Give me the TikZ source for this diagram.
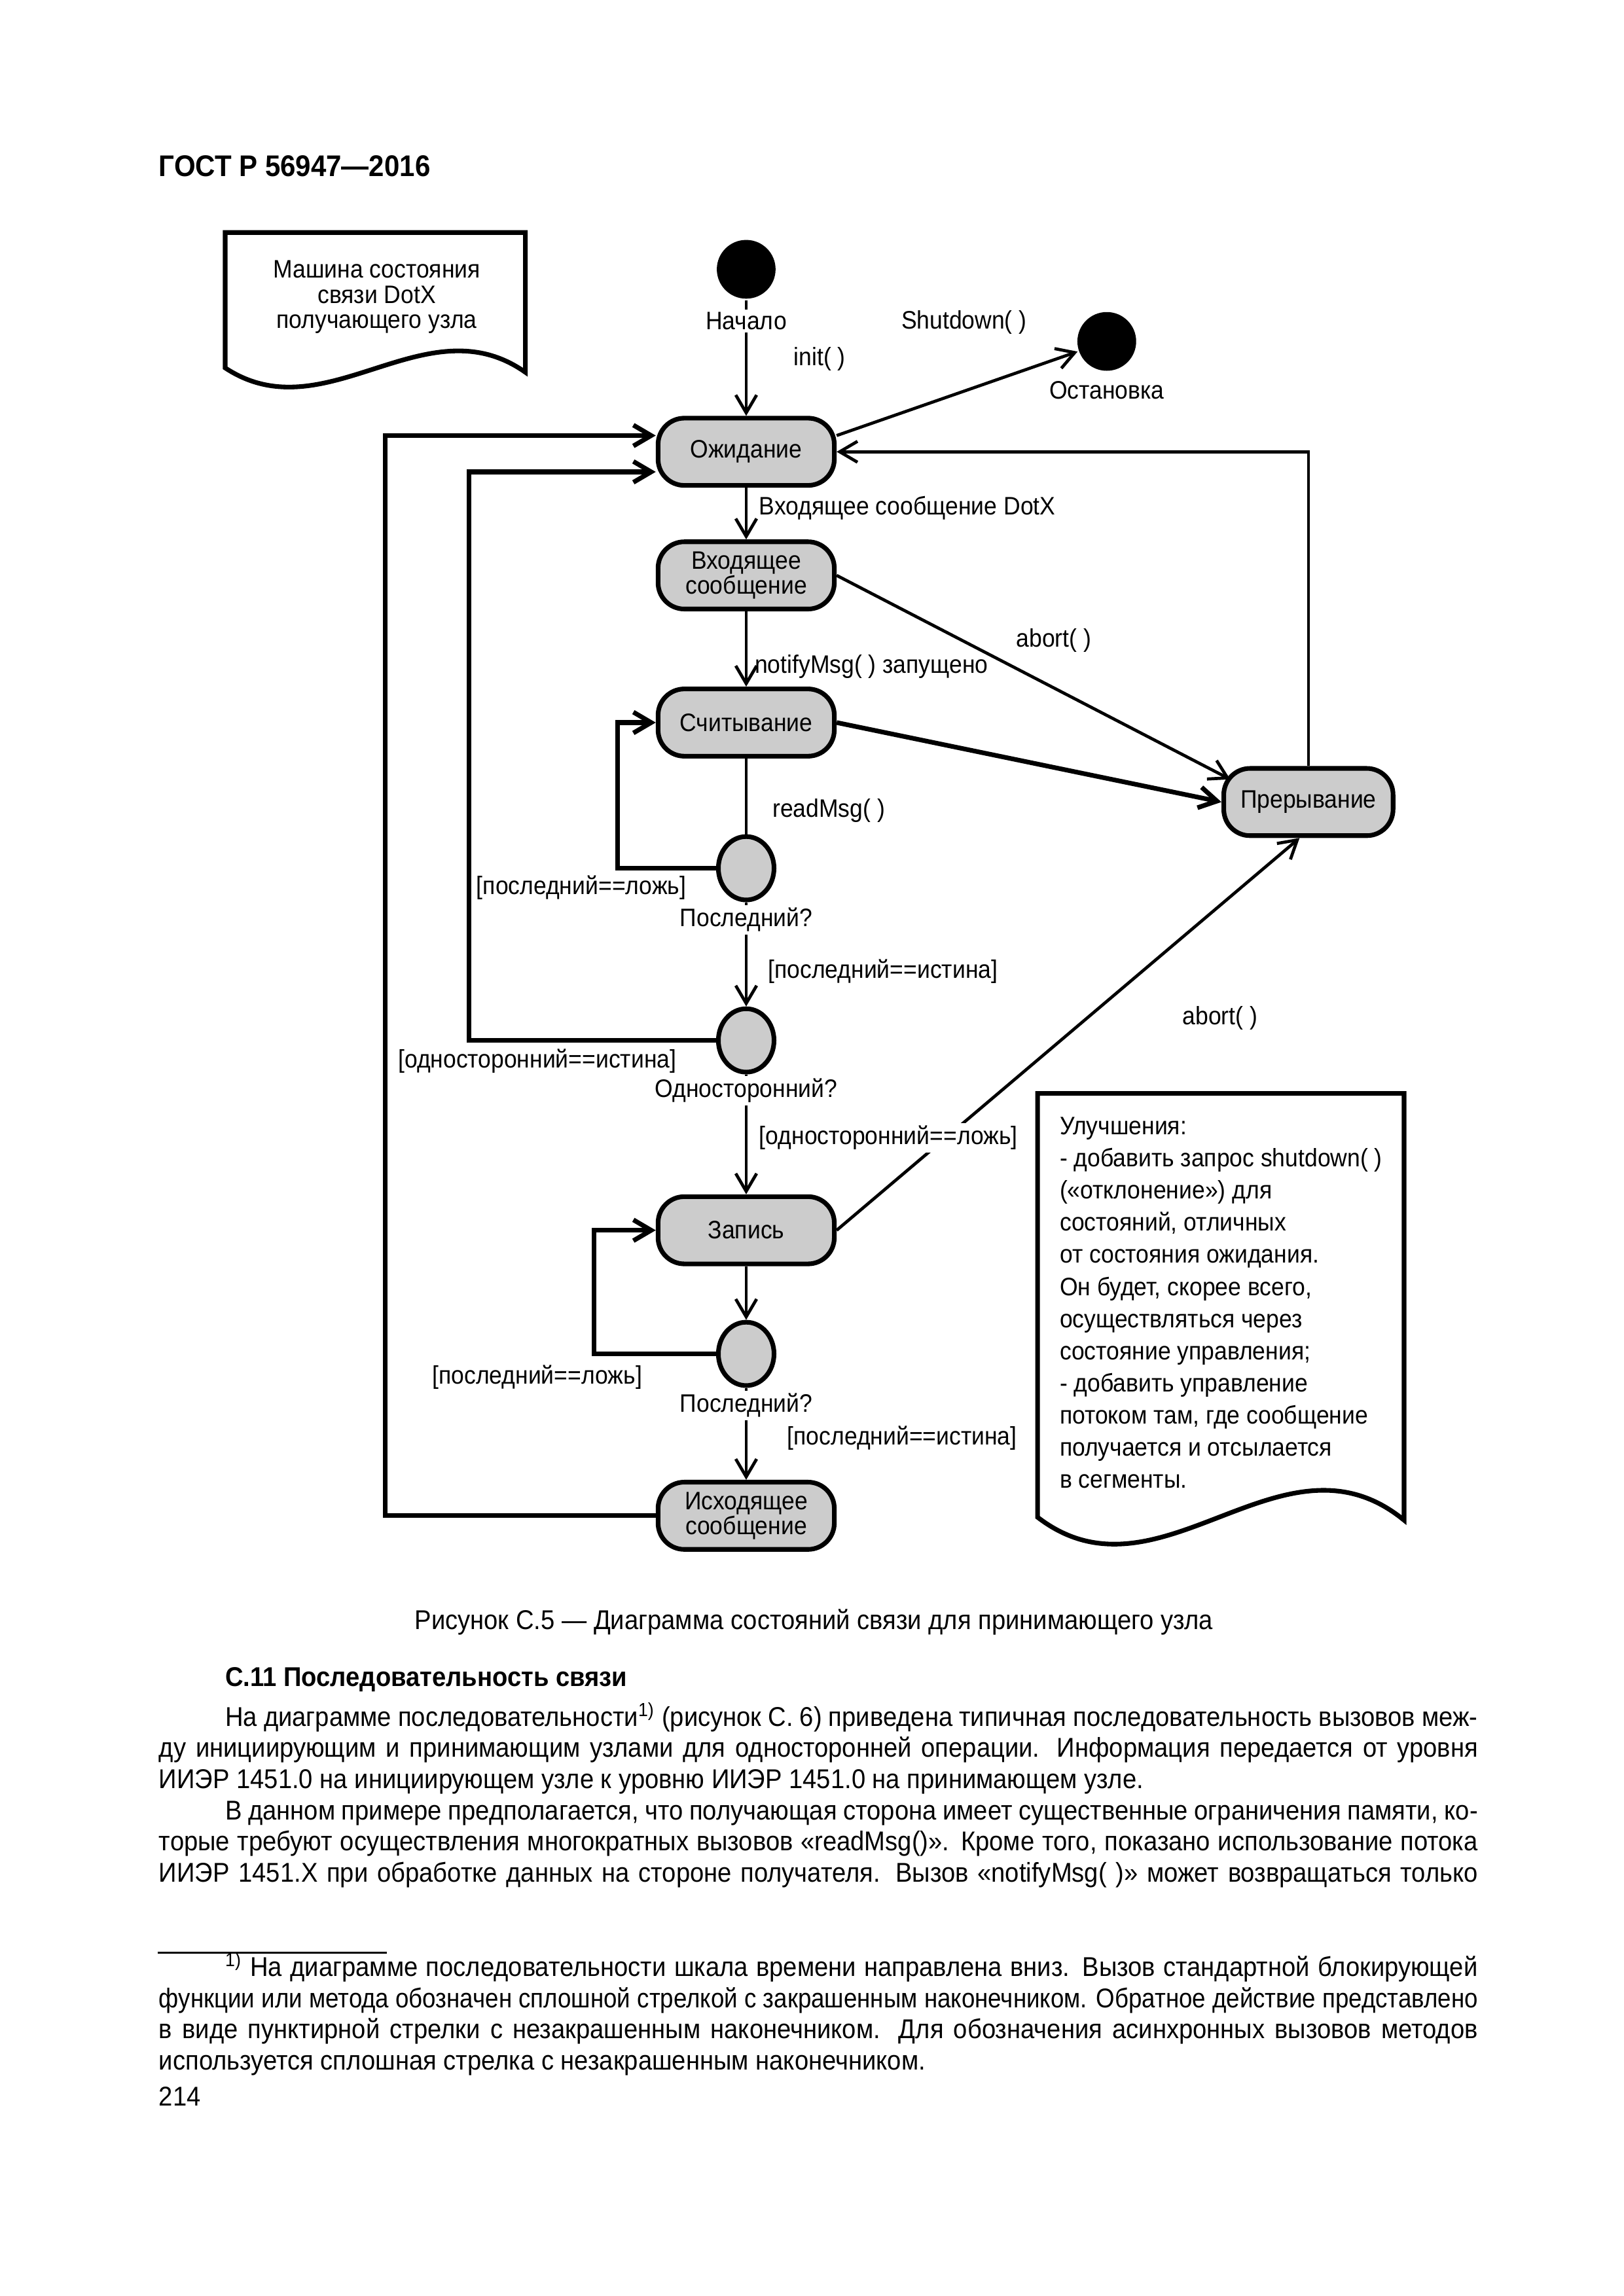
\documentclass[tikz,border=0pt]{standalone}
\usepackage{fontspec}
\usepackage{graphicx}
\setmainfont{Liberation Sans}[FakeStretch=0.92]
\usetikzlibrary{arrows.meta}
\usetikzlibrary{calc}
\usetikzlibrary{positioning}
\usetikzlibrary{shapes.geometric}

\newcommand{\dgfont}{\fontsize{9.3}{9.2}\selectfont}
\newcommand{\notefont}{\fontsize{9.3}{11.83}\selectfont}
\newcommand{\bodyfont}{\fontsize{10}{11.45}\selectfont}
\newlength{\textw}
\setlength{\textw}{170.6mm}
\newcommand{\jl}[1]{\makebox[\textw][s]{#1}}
% squeezed line: 170.6mm / 0.96
\newcommand{\jlx}[1]{\scalebox{0.96}[1]{\makebox[177.71mm][s]{#1}}}
\newcommand{\ind}{\hspace*{8.57mm}}

\begin{document}
\begin{tikzpicture}[x=0.19039mm,y=-0.19039mm,>={Straight Barb[length=2.3mm,width=2.7mm]},line width=0.4mm]
  \tikzstyle{state}=[draw, rectangle, rounded corners=3.4mm, fill=black!20, line width=0.6mm, minimum width=22.8mm, minimum height=8.7mm, inner sep=1pt, align=center, font=\dgfont]
  \tikzstyle{choice}=[draw, ellipse, fill=black!20, line width=0.6mm, minimum width=7.2mm, minimum height=8.2mm, inner sep=0pt]
  \tikzstyle{term}=[circle, fill=black, minimum size=7.6mm, inner sep=0pt]
  \tikzstyle{lbl}=[font=\dgfont, inner sep=1pt]
  \tikzstyle{cut}=[lbl, fill=white]
  \tikzstyle{back}=[->, line width=0.6mm]
  \useasboundingbox (0,0) rectangle (1103,1560.2);

  % page head
  \node[anchor=base west, inner sep=0, font=\fontsize{11}{13}\selectfont\bfseries] (gost) at (107,120) {ГОСТ Р 56947—2016};

  % states
  \node[term]   (start)  at (507,183)  {};
  \node[term]   (stop)   at (752,232)  {};
  \node[state]  (wait)   at (507,307)  {Ожидание};
  \node[state]  (inmsg)  at (507,391)  {Входящее\\сообщение};
  \node[state]  (read)   at (507,491)  {Считывание};
  \node[choice] (last1)  at (507,590)  {};
  \node[choice] (oneway) at (507,707)  {};
  \node[state]  (write)  at (507,836)  {Запись};
  \node[choice] (last2)  at (507,920)  {};
  \node[state]  (outmsg) at (507,1030) {Исходящее\\сообщение};
  \node[state, minimum width=21.9mm] (abort) at (889,545) {Прерывание};

  \path[->]
    (start)  edge (wait)
    (wait)   edge (inmsg)
    (inmsg)  edge (read)
    (last1)  edge (oneway)
    (oneway) edge (write)
    (write)  edge (last2)
    (last2)  edge (outmsg)
    ([yshift=2.1mm]wait.east) edge (stop)
    (inmsg.east) edge ($(abort.north west)+(6,9)$)
    (write.east) edge ($(abort.south)+(-6,0)$);
  \draw (read) -- (last1);
  \draw[back] (read.east) -- (abort.west);
  \draw[->] (abort.north) |- (wait.east);
  % loops back
  \draw[back] (last1.west) -- ++(-67,0) |- (read.west);
  \draw[back] (oneway.west) -- ++(-168,0) |- ([yshift=-2.6mm]wait.west);
  \draw[back] (last2.west) -- ++(-83,0) |- (write.west);
  \draw[back] (outmsg.west) -- ++(-184,0) |- ([yshift=2.1mm]wait.west);

  % labels
  \node[cut] (lstart) at (507,218) {Начало};
  \node[lbl] (linit) at (557,244) {init( )};
  \node[lbl] (lshut) at (655,219) {Shutdown( )};
  \node[lbl] (lstop) at (752,265) {Остановка};
  \node[lbl, anchor=west] (ldotx) at (513,345) {Входящее сообщение DotX};
  \node[lbl] (labort1) at (716,435) {abort( )};
  \node[lbl, anchor=west] (lnotify) at (510,453) {notifyMsg( ) запущено};
  \node[lbl, anchor=west] (lreadmsg) at (522,551) {readMsg( )};
  \node[lbl] (lfalse1) at (395,603) {[последний==ложь]};
  \node[cut] (llast1) at (507,625) {Последний?};
  \node[lbl, anchor=west] (ltrue1) at (519,660) {[последний==истина]};
  \node[lbl] (labort2) at (829,692) {abort( )};
  \node[lbl] (ltrue2) at (365,721) {[односторонний==истина]};
  \node[cut] (loneway) at (507,741) {Односторонний?};
  \node[cut, anchor=west] (lfalse2) at (513,773) {[односторонний==ложь]};
  \node[lbl] (lfalse3) at (365,936) {[последний==ложь]};
  \node[cut] (llast2) at (507,955) {Последний?};
  \node[lbl, anchor=west] (ltrue3) at (532,977) {[последний==истина]};

  % notes
  \draw[line width=0.6mm] (153,250) -- (153,158) -- (357,158) -- (357,253) .. controls (289,205) and (221,295) .. (153,250) -- cycle;
  \node[anchor=base, inner sep=0, font=\dgfont] (title) at (256,189) {\parbox[t]{45mm}{\centering Машина состояния\\связи DotX\\получающего узла}};
  \draw[line width=0.6mm] (705,1031) -- (705,743) -- (954,743) -- (954,1033) .. controls (871,965) and (788,1095) .. (705,1031) -- cycle;
  \node[anchor=base west, inner sep=0, font=\notefont] (ideas) at (719,771) {\parbox[t]{50mm}{\raggedright Улучшения:\\- добавить запрос shutdown( )\\(«отклонение») для\\состояний, отличных\\от состояния ожидания.\\Он будет, скорее всего,\\осуществляться через\\состояние управления;\\- добавить управление\\потоком там, где сообщение\\получается и отсылается\\в сегменты.}};

  % page text
  \node[anchor=base, inner sep=0, font=\bodyfont] (caption) at (553,1107) {Рисунок С.5 — Диаграмма состояний связи для принимающего узла};
  \node[anchor=base west, inner sep=0, font=\bodyfont\bfseries] (sect) at (152,1146) {С.11 Последовательность связи};
  \node[anchor=base west, inner sep=0, font=\bodyfont] (text) at (107,1173) {\parbox[t]{\textw}{%
    \jl{\ind На диаграмме последовательности\textsuperscript{1)} (рисунок С.~6) приведена типичная последовательность вызовов меж-}\\
    \jl{ду инициирующим и принимающим узлами для односторонней операции. Информация передается от уровня}\\
    ИИЭР 1451.0 на инициирующем узле к уровню ИИЭР 1451.0 на принимающем узле.\\
    \jl{\ind В данном примере предполагается, что получающая сторона имеет существенные ограничения памяти, ко-}\\
    \jl{торые требуют осуществления многократных вызовов «readMsg()». Кроме того, показано использование потока}\\
    \jl{ИИЭР 1451.X при обработке данных на стороне получателя. Вызов «notifyMsg( )» может возвращаться только}}};
  \draw[line width=0.25mm] (107,1327) -- (263,1327);
  \node[anchor=base west, inner sep=0, font=\bodyfont] (foot) at (107,1343) {\parbox[t]{\textw}{%
    \jl{\ind\textsuperscript{1)} На диаграмме последовательности шкала времени направлена вниз. Вызов стандартной блокирующей}\\
    \jlx{функции или метода обозначен сплошной стрелкой с закрашенным наконечником. Обратное действие представлено}\\
    \jl{в виде пунктирной стрелки с незакрашенным наконечником. Для обозначения асинхронных вызовов методов}\\
    используется сплошная стрелка с незакрашенным наконечником.}};
  \node[anchor=base west, inner sep=0, font=\bodyfont] (page) at (107,1431) {214};
\end{tikzpicture}
\end{document}
